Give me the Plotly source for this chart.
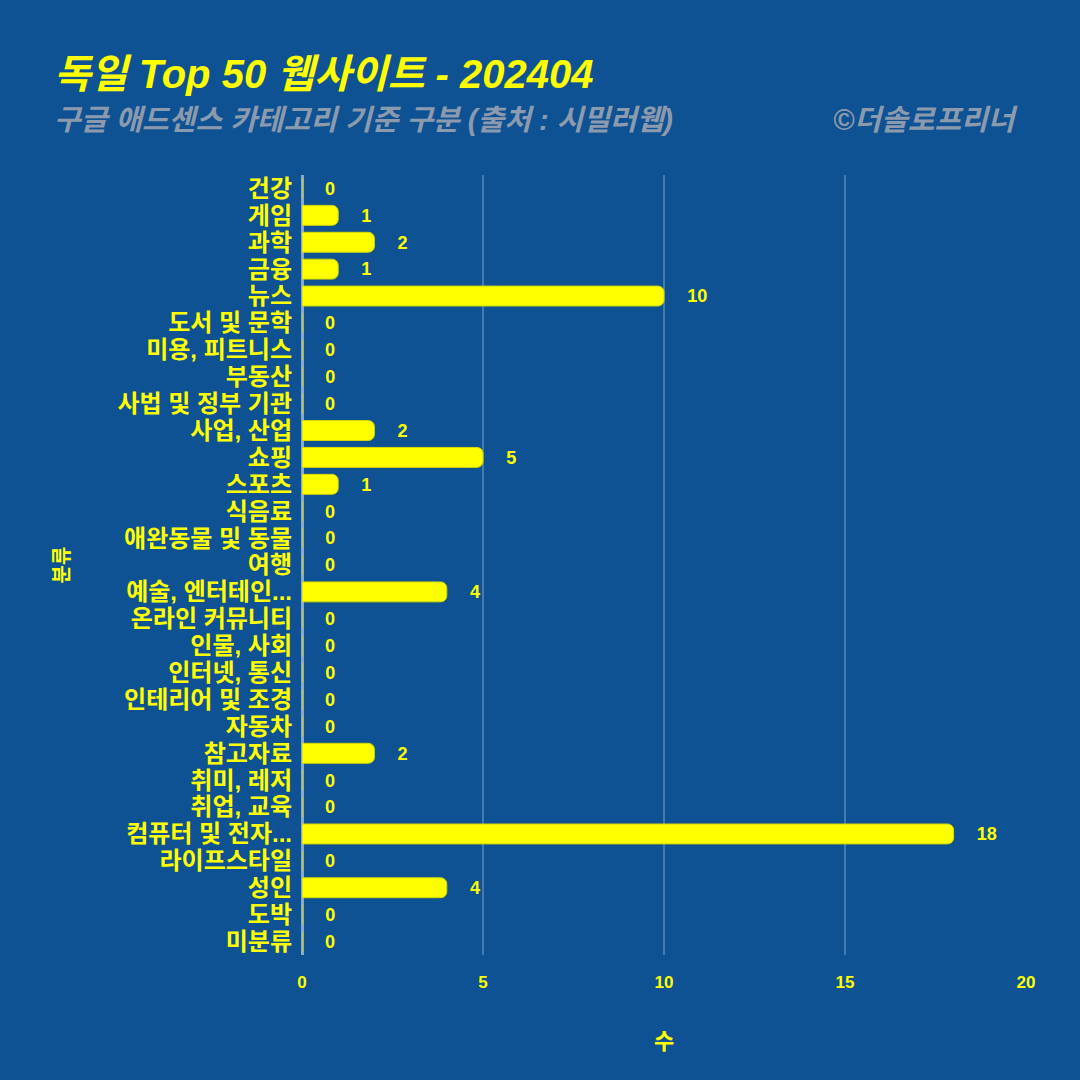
import plotly.graph_objects as go

categories = ["건강", "게임", "과학", "금융", "뉴스", "도서 및 문학", "미용, 피트니스", "부동산",
              "사법 및 정부 기관", "사업, 산업", "쇼핑", "스포츠", "식음료", "애완동물 및 동물", "여행",
              "예술, 엔터테인...", "온라인 커뮤니티", "인물, 사회", "인터넷, 통신", "인테리어 및 조경",
              "자동차", "참고자료", "취미, 레저", "취업, 교육", "컴퓨터 및 전자...", "라이프스타일",
              "성인", "도박", "미분류"]
counts = [0, 1, 2, 1, 10, 0, 0, 0, 0, 2, 5, 1, 0, 0, 0, 4, 0, 0, 0, 0, 0, 2, 0, 0, 18, 0, 4, 0, 0]
x_ticks = [0, 5, 10, 15, 20]

BG = "#0e5293"
YEL = "#ffff00"
GRAY = "#8c9aae"
FONT = "Liberation Sans, Noto Sans CJK KR, sans-serif"

fig = go.Figure(go.Bar(
    x=counts, y=categories, orientation="h",
    marker=dict(color=YEL, line=dict(color="#d8d800", width=1), cornerradius=6),
    width=0.74,
    text=["    " + str(v) for v in counts],
    textposition="outside", cliponaxis=False,
    textfont=dict(color=YEL, size=20, family=FONT, weight="bold"),
))

fig.update_layout(
    width=1080, height=1080,
    paper_bgcolor=BG, plot_bgcolor=BG,
    margin=dict(l=302, r=54, t=175, b=125),
    showlegend=False,
    font=dict(family=FONT, color=YEL),
    xaxis=dict(range=[0, 20], tickvals=x_ticks, showgrid=True,
               gridcolor="rgba(200,215,235,0.3)", gridwidth=1.5,
               zeroline=True, zerolinecolor="rgba(190,205,225,0.7)", zerolinewidth=3,
               tickfont=dict(size=17, color=YEL, weight="bold"),
               ticklabelstandoff=15,
               title=dict(text="수", font=dict(size=22, color=YEL, weight="bold"), standoff=42),
               ticks="", fixedrange=True),
    yaxis=dict(autorange="reversed", showgrid=False, ticks="", ticklabelstandoff=9,
               tickmode="array", tickvals=categories, ticktext=categories,
               tickfont=dict(size=24, color=YEL, weight="bold"),
               title=dict(text="분류", font=dict(size=20, color=YEL, weight="bold"), standoff=42)),
    annotations=[
        dict(text="<b><i>독일 Top 50 웹사이트 - 202404</i></b>", xref="paper", yref="paper",
             x=-0.3453, y=1.1295, xanchor="left", yanchor="middle", showarrow=False,
             font=dict(size=40, color=YEL, family=FONT)),
        dict(text="<b><i>구글 애드센스 카테고리 기준 구분 (출처 : 시밀러웹)</i></b>", xref="paper", yref="paper",
             x=-0.3453, y=1.0705, xanchor="left", yanchor="middle", showarrow=False,
             font=dict(size=29, color=GRAY, family=FONT)),
        dict(text="<b><i>©더솔로프리너</i></b>", xref="paper", yref="paper",
             x=0.9917, y=1.0705, xanchor="right", yanchor="middle", showarrow=False,
             font=dict(size=29, color=GRAY, family=FONT)),
    ],
)

fig.write_html("out.html", config={"displayModeBar": False},
               post_script="document.body.style.margin='0';document.body.style.background='%s';" % BG)
